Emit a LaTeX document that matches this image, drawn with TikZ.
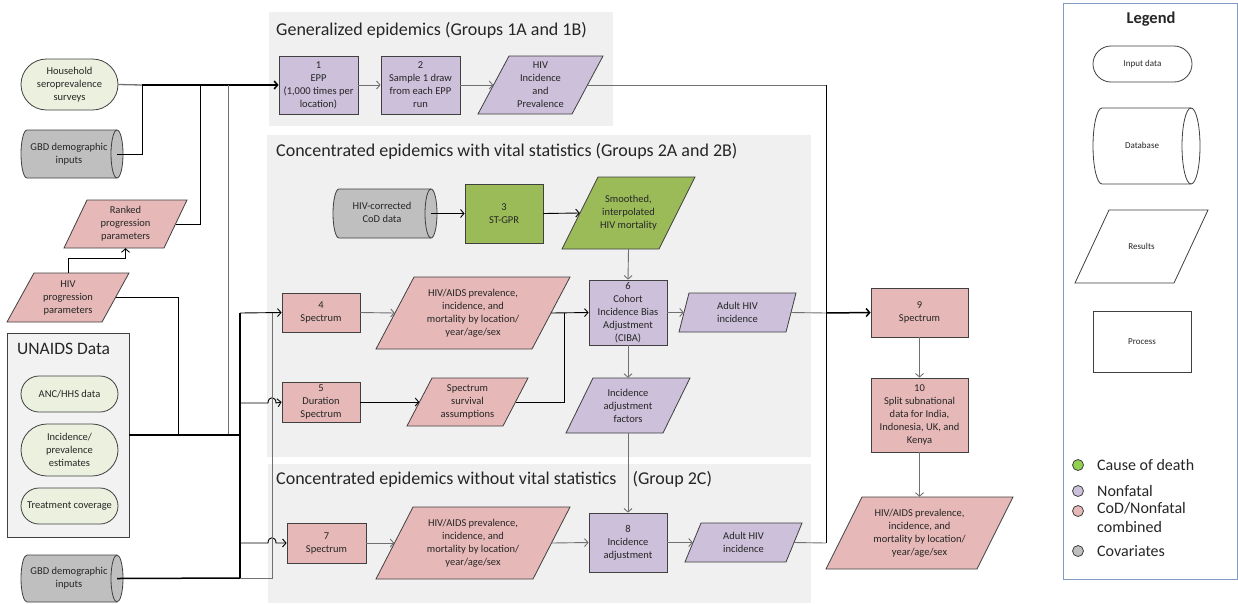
\documentclass[tikz,border=0pt]{standalone}
\usepackage{fontspec}
\setmainfont{Carlito}
\usetikzlibrary{arrows.meta,shapes.geometric,shapes.misc}

\definecolor{pinkf}{HTML}{E6B9B8}
\definecolor{purpf}{HTML}{CCC0DA}
\definecolor{greenf}{HTML}{9BBB59}
\definecolor{inputf}{HTML}{EBF1DE}
\definecolor{grayf}{HTML}{BFBFBF}
\definecolor{groupf}{HTML}{F0F0F0}
\definecolor{unaidsf}{HTML}{F2F2F2}
\definecolor{edgec}{HTML}{404040}
\definecolor{linec}{HTML}{707070}
\definecolor{legendc}{HTML}{7F9BC6}
\definecolor{txt}{HTML}{262626}
\definecolor{dotgreen}{HTML}{92D050}

\tikzset{
  base/.style={align=center, inner sep=0pt, text=txt, font=\fontsize{10.5}{13}\selectfont},
  small/.style={font=\fontsize{9}{11}\selectfont},
  proc/.style={base, rectangle, draw=edgec, line width=0.8pt},
  inp/.style={base, rounded rectangle, draw=edgec, line width=0.8pt},
  slanttext/.style={base, rectangle},
  slantshape/.style={draw=edgec, line width=0.8pt},
  gline/.style={draw=linec, line width=0.9pt},
  bline/.style={draw=black, line width=0.9pt},
  bus/.style={draw=black, line width=1.5pt},
  arr/.style={-{Straight Barb[length=3.5pt,width=8pt]}},
  grptitle/.style={anchor=west, inner sep=0pt, text=txt, font=\fontsize{18}{21}\selectfont},
  legtext/.style={anchor=west, inner sep=0pt, text=txt, align=left, font=\fontsize{16}{19}\selectfont},
  legdot/.style={circle, draw=edgec, line width=0.8pt, minimum size=11pt, inner sep=0pt},
}

% box given by its corners (x0,y0)-(x1,y1)
\newcommand\procnode[7]{%
  \node[#6, minimum width={(#4-#2)*1pt}, minimum height={(#5-#3)*1pt}]
    (#1) at ({(#2+#4)/2},{(#3+#5)/2}) {#7};}
% horizontal cylinder with its open face on the right; #6 = x radius of the ends
\newcommand\cylnode[8]{%
  \path[slantshape, fill=#7]
    ({#2+#6},#3) -- ({#4-#6},#3)
    .. controls ({#4-#6+0.5523*#6},#3) and (#4,{(#3+#5)/2-0.5523*(#5-#3)/2}) .. (#4,{(#3+#5)/2})
    .. controls (#4,{(#3+#5)/2+0.5523*(#5-#3)/2}) and ({#4-#6+0.5523*#6},#5) .. ({#4-#6},#5)
    -- ({#2+#6},#5)
    .. controls ({#2+#6-0.5523*#6},#5) and (#2,{(#3+#5)/2+0.5523*(#5-#3)/2}) .. (#2,{(#3+#5)/2})
    .. controls (#2,{(#3+#5)/2-0.5523*(#5-#3)/2}) and ({#2+#6-0.5523*#6},#3) .. ({#2+#6},#3) -- cycle;
  \draw[slantshape] ({#4-#6},#3)
    .. controls ({#4-#6-0.5523*#6},#3) and ({#4-2*#6},{(#3+#5)/2-0.5523*(#5-#3)/2}) .. ({#4-2*#6},{(#3+#5)/2})
    .. controls ({#4-2*#6},{(#3+#5)/2+0.5523*(#5-#3)/2}) and ({#4-#6-0.5523*#6},#5) .. ({#4-#6},#5);
  \node[slanttext, minimum width={(#4-#2)*1pt}, minimum height={(#5-#3)*1pt}]
    (#1) at ({(#2+#4)/2},{(#3+#5)/2})
    {\begin{tabular}{@{}c@{}}#8\end{tabular}\hspace*{#6pt}};}
% parallelogram leaning right, slant #6; the named node is its mid rectangle
\newcommand\slantnode[8]{%
  \path[slantshape, fill=#7] (#2,#5) -- ({#2+#6},#3) -- (#4,#3) -- ({#4-#6},#5) -- cycle;
  \node[slanttext, minimum width={(#4-#2-#6)*1pt}, minimum height={(#5-#3)*1pt}]
    (#1) at ({(#2+#4)/2},{(#3+#5)/2}) {#8};}

\begin{document}
\begin{tikzpicture}[x=1pt, y=-1pt]
\useasboundingbox (0,0) rectangle (1238,603);

% ---------- group panels ----------
\fill[groupf] (269,12) rectangle (613,126);
\node[grptitle] (tA) at (276,30) {Generalized epidemics (Groups 1A and 1B)};
\fill[groupf] (267,135) rectangle (811,457);
\node[grptitle] (tB) at (276,151) {Concentrated epidemics with vital statistics (Groups 2A and 2B)};
\fill[groupf] (268,464) rectangle (811,603);
\node[grptitle] (tC) at (276,479) {Concentrated epidemics without vital statistics\hspace{12pt} (Group 2C)};

% ---------- inputs on the left ----------
\procnode{hh}{21}{59}{118}{110}{inp, fill=inputf}{Household\\seroprevalence\\surveys}
\cylnode{gbdA}{21}{130}{123}{178}{6}{grayf}{GBD demographic\\inputs}
\slantnode{ranked}{64}{200}{187}{248}{23}{pinkf}{Ranked\\progression\\parameters}
\slantnode{hivprog}{7}{273}{129}{322}{27}{pinkf}{HIV\\progression\\parameters}

\procnode{unaids}{7}{333}{129}{537}{draw=edgec, line width=0.8pt, fill=unaidsf}{}
\node[anchor=west, inner sep=0pt, text=txt, font=\fontsize{17.5}{20}\selectfont] (unaidsT) at (17,349) {UNAIDS Data};
\procnode{anc}{21}{376}{118}{412}{inp, fill=inputf}{ANC/HHS data}
\procnode{incprev}{21}{424}{118}{476}{inp, fill=inputf}{Incidence/\\prevalence\\estimates}
\procnode{treat}{21}{488}{118}{524}{inp, fill=inputf}{Treatment coverage}
\cylnode{gbdB}{21}{555}{123}{602}{6}{grayf}{GBD demographic\\inputs}

% ---------- generalized epidemics ----------
\procnode{epp}{279}{56}{358}{114}{proc, fill=purpf}{1\\EPP\\(1,000 times per\\location)}
\procnode{sample}{381}{56}{460}{114}{proc, fill=purpf}{2\\Sample 1 draw\\from each EPP\\run}
\slantnode{hivinc}{478}{56}{603}{114}{31}{purpf}{HIV\\Incidence\\and\\Prevalence}

% ---------- concentrated, with vital statistics ----------
\cylnode{cod}{333}{189}{437}{238}{6}{grayf}{HIV-corrected\\CoD data}
\procnode{stgpr}{465}{184}{543}{243}{proc, fill=greenf}{3\\ST-GPR}
\slantnode{smooth}{562}{177}{695}{249}{36}{greenf}{Smoothed,\\interpolated\\HIV mortality}
\procnode{specF}{282}{293}{360}{332}{proc, fill=pinkf}{4\\Spectrum}
\slantnode{hivaidsA}{376}{277}{570}{349}{38}{pinkf}{HIV/AIDS prevalence,\\incidence, and\\mortality by location/\\year/age/sex}
\procnode{ciba}{589}{280}{667}{345}{proc, fill=purpf}{6\\Cohort\\Incidence Bias\\Adjustment\\(CIBA)}
\slantnode{adultA}{679}{293}{796}{332}{10}{purpf}{Adult HIV\\incidence}
\procnode{specD}{282}{382}{360}{422}{proc, fill=pinkf}{5\\Duration\\Spectrum}
\slantnode{surv}{407}{378}{528}{426}{25}{pinkf}{Spectrum\\survival\\assumptions}
\slantnode{incfac}{566}{378}{690}{433}{27}{purpf}{Incidence\\adjustment\\factors}

% ---------- concentrated, without vital statistics ----------
\procnode{specS}{287}{523}{366}{563}{proc, fill=pinkf}{7\\Spectrum}
\slantnode{hivaidsB}{376}{507}{570}{579}{37}{pinkf}{HIV/AIDS prevalence,\\incidence, and\\mortality by location/\\year/age/sex}
\procnode{adjE}{589}{513}{667}{572}{proc, fill=purpf}{8\\Incidence\\adjustment}
\slantnode{adultB}{685}{523}{802}{562}{16}{purpf}{Adult HIV\\incidence}

% ---------- final steps ----------
\procnode{specN}{871}{288}{968}{337}{proc, fill=pinkf}{9\\Spectrum}
\procnode{split}{871}{378}{968}{452}{proc, fill=pinkf}{10\\Split subnational\\data for India,\\Indonesia, UK, and\\Kenya}
\slantnode{out}{826}{497}{1013}{569}{36}{pinkf}{HIV/AIDS prevalence,\\incidence, and\\mortality by location/\\year/age/sex}

% ---------- junction points ----------
\coordinate (jA) at (142,85);
\coordinate (jB) at (200,85);
\coordinate (jC) at (228,85);
\coordinate (jD) at (178,435);
\coordinate (jE) at (228,435);
\coordinate (jF) at (240,435);
\coordinate (jG) at (240,313);
\coordinate (jH) at (240,403);
\coordinate (jI) at (240,543);
\coordinate (jJ) at (240,578);
\coordinate (jK) at (272,578);
\coordinate (jL) at (272,313);
\coordinate (jM) at (826,85);
\coordinate (jN) at (826,313);
\coordinate (jO) at (826,543);
\coordinate (jP) at (564,313);

% ---------- connectors: inputs ----------
\draw[gline, line width=1.3pt] (hh.east) -- (jA);
\draw[bus, arr] (jA) -- (epp.west);
\draw[bline] ([xshift=-6pt]gbdA.east) -| (jA);
\draw[bline] (ranked.east) -| (jB);
\draw[bline, arr] (hivprog.north) -- ++(0,-14) -| (ranked.south);
\draw[bline] (hivprog.east) -| (jD);
\draw[gline] (jC) -- (jE);
\draw[bus] (unaids.east) -- (jF);
\draw[bus] (jG) -- (jJ);
\draw[bline, arr] (jG) -- (specF.west);
\draw[bline, arr] (jH) -- (268,403) .. controls (268,396) and (276,396) .. (276,403) -- (specD.west);
\draw[bline, arr] (jI) -- (268,543) .. controls (268,536) and (276,536) .. (276,543) -- (specS.west);
\draw[bus] ([xshift=-6pt]gbdB.east) -- (jJ);
\draw[gline] (jJ) -- (jK) -- (jL);

% ---------- connectors: generalized ----------
\draw[gline, arr] (epp.east) -- (sample.west);
\draw[gline, arr] (sample.east) -- (hivinc.west);
\draw[gline] (hivinc.east) -- (jM);
\draw[bline] (jM) -- (jO);

% ---------- connectors: with vital statistics ----------
\draw[bline, arr] ([xshift=-6pt]cod.east) -- (stgpr.west);
\draw[bline, arr] (stgpr.east) -- (smooth.west);
\draw[gline, arr] (smooth.south) -- (ciba.north);
\draw[gline, arr] (specF.east) -- (hivaidsA.west);
\draw[bline, arr] (hivaidsA.east) -- (ciba.west);
\draw[bline, arr] (specD.east) -- (surv.west);
\draw[bline] (surv.east) -| (jP);
\draw[gline, arr] (ciba.south) -- (incfac.north);
\draw[gline, arr] (ciba.east) -- (adultA.west);
\draw[gline, arr] (incfac.south) -- (adjE.north);
\draw[gline] (adultA.east) -- (jN);
\draw[bus, arr] (jN) -- (specN.west);

% ---------- connectors: without vital statistics ----------
\draw[gline, arr] (specS.east) -- (hivaidsB.west);
\draw[gline, arr] (hivaidsB.east) -- (adjE.west);
\draw[gline, arr] (adjE.east) -- (adultB.west);
\draw[gline] (adultB.east) -- (jO);

% ---------- connectors: final ----------
\draw[gline, arr] (specN.south) -- (split.north);
\draw[gline, arr] (split.south) -- (out.north);

% ---------- legend ----------
\procnode{legend}{1063}{3}{1237}{579}{draw=legendc, line width=0.9pt, fill=white}{}
\node[inner sep=0pt, text=txt, font=\bfseries\fontsize{16.5}{19}\selectfont] (legT) at (1151,19) {Legend};
\procnode{lgInput}{1093}{46}{1192}{82}{inp, small, fill=white}{Input data}
\cylnode{lgDb}{1093}{108}{1200}{184}{9}{white}{\fontsize{9}{11}\selectfont Database}
\slantnode{lgRes}{1075}{210}{1208}{283}{34}{white}{\fontsize{9}{11}\selectfont Results}
\procnode{lgProc}{1093}{311}{1191}{372}{proc, small, fill=white}{Process}

\node[legdot, fill=dotgreen] (dA) at (1078,465) {};
\node[legtext] (lA) at (1097,465) {Cause of death};
\node[legdot, fill=purpf] (dB) at (1078,491) {};
\node[legtext] (lB) at (1097,491) {Nonfatal};
\node[legdot, fill=pinkf] (dC) at (1078,511) {};
\node[legtext, anchor=north west] (lC) at (1097,502) {CoD/Nonfatal\\combined};
\node[legdot, fill=grayf] (dD) at (1078,551) {};
\node[legtext] (lD) at (1097,551) {Covariates};
\end{tikzpicture}
\end{document}
